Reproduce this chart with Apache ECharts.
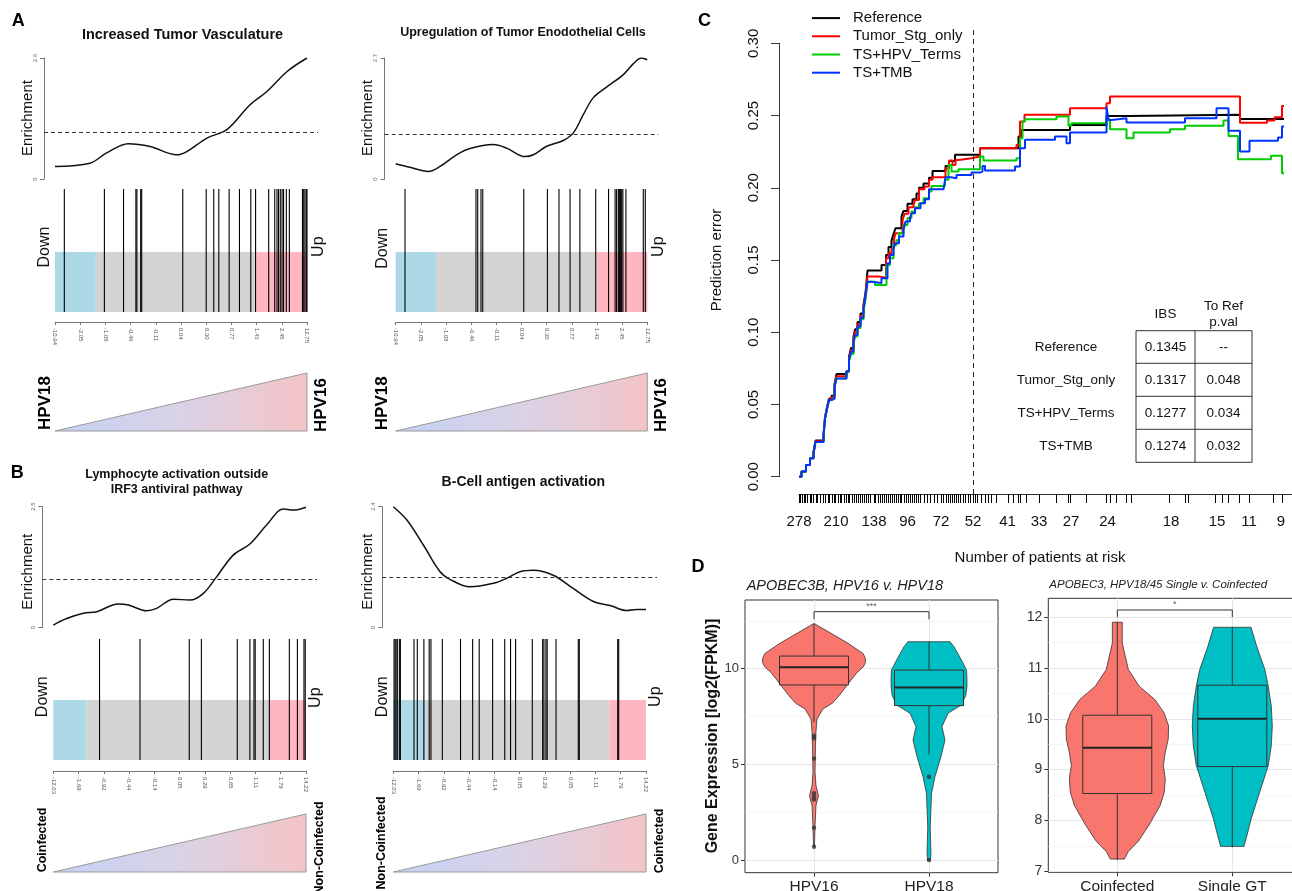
<!DOCTYPE html>
<html>
<head>
<meta charset="utf-8">
<script src="https://cdn.jsdelivr.net/npm/echarts@6.0.0/dist/echarts.min.js"></script>
<style>html,body{margin:0;padding:0;background:#fff;}#chart{width:1292px;height:891px;}</style>
</head>
<body>
<div id="chart"></div>
<script>
// ======================= DATA =======================
// Panels A/B: running enrichment (x = position along ranked list in %, y = enrichment)
const enrA1X = [0, 13.9, 20.5, 29.1, 37.7, 48.3, 52.3, 60.3, 68.2, 77.5, 84.1, 92.1, 100];
const enrA1Y = [0.27, 0.34, 0.56, 0.76, 0.70, 0.52, 0.59, 0.88, 1.06, 1.60, 1.88, 2.31, 2.60];
const enrA2X = [0, 5.7, 13.0, 17.6, 24.2, 29.5, 38.8, 44.1, 51.4, 54.7, 60.0, 66.6, 70.6, 74.6, 78.5, 83.8, 90.5, 94.4, 97.7, 100];
const enrA2Y = [0.34, 0.26, 0.17, 0.28, 0.54, 0.68, 0.77, 0.69, 0.50, 0.54, 0.73, 0.86, 1.03, 1.44, 1.81, 2.05, 2.33, 2.57, 2.70, 2.66];
const enrB1X = [0, 5.3, 11.9, 17.2, 25.7, 29.7, 36.9, 40.9, 47.5, 54.1, 59.4, 64.6, 71.2, 77.8, 84.4, 91.0, 95.0, 100];
const enrB1Y = [0.055, 0.19, 0.30, 0.33, 0.49, 0.47, 0.35, 0.40, 0.59, 0.57, 0.71, 1.05, 1.50, 1.73, 2.12, 2.45, 2.43, 2.49];
const enrB2X = [0, 5.3, 11.9, 18.5, 22.4, 30.3, 39.6, 44.9, 50.1, 55.4, 63.3, 71.2, 79.2, 85.8, 92.3, 96.3, 100];
const enrB2Y = [2.40, 2.14, 1.64, 1.11, 0.96, 0.81, 0.88, 0.98, 1.11, 1.14, 1.04, 0.78, 0.52, 0.44, 0.34, 0.36, 0.36];
const enrMax = [2.6, 2.7, 2.5, 2.4];
const enrBaseline = 1;

// gene-set hits (position in ranked list, %)
const hitsA1 = [3.7, 19.6, 27.2, 32.1, 32.5, 34.0, 34.4, 50.7, 60.0, 63.0, 65.0, 69.1, 73.2, 77.7, 79.6, 84.8, 87.2, 88.1, 88.7, 89.4, 90.1, 90.7, 91.8, 93.0, 98.2, 98.7, 99.2, 99.7, 100];
const hitsA2 = [3.7, 31.9, 32.6, 33.9, 34.6, 50.9, 60.3, 64.9, 69.3, 73.2, 79.5, 84.6, 87.2, 87.8, 88.5, 88.9, 89.3, 89.8, 90.3, 91.5, 98.4, 99.2];
const hitsB1 = [18.3, 34.3, 53.8, 58.6, 72.8, 77.8, 79.4, 79.9, 83.1, 85.5, 93.4, 96.6, 99.2, 99.7];
const hitsB2 = [0.3, 0.7, 1.1, 1.6, 2.4, 2.8, 8.2, 9.5, 12.1, 14.2, 14.9, 19.4, 26.6, 31.4, 34.0, 39.3, 44.1, 46.4, 48.4, 55.0, 59.1, 59.6, 60.4, 60.9, 64.4, 73.2, 73.6, 88.8, 89.2];
// [end of "Down" block, start of "Up" block] in %
const regA1 = [16.2, 79.9];
const regA2 = [16.0, 79.9];
const regB1 = [13.1, 85.5];
const regB2 = [12.9, 85.5];
// rank-statistic tick labels
const rankTicksA = [-10.94, -2.05, -1.08, -0.46, -0.11, 0.04, 0.30, 0.77, 1.43, 2.45, 12.75];
const rankTicksB = [-12.03, -1.69, -0.92, -0.44, -0.14, 0.05, 0.29, 0.65, 1.11, 1.79, 14.22];
const endsA = ['HPV18', 'HPV16'];
const endsB1 = ['Coinfected', 'Non-Coinfected'];
const endsB2 = ['Non-Coinfected', 'Coinfected'];

// Panel C: prediction error curves [time, error]
const refCurve = [[0,0],[0.5,0.0035],[1.4,0.008],[2.2,0.0127],[2.9,0.017],[3.3,0.025],[4.9,0.029],[5.2,0.041],[5.6,0.048],[6.0,0.054],[6.5,0.056],[7.1,0.064],[7.5,0.071],[9.5,0.073],[10.0,0.083],[10.4,0.089],[10.9,0.097],[11.2,0.102],[11.7,0.107],[12.3,0.113],[12.9,0.119],[13.3,0.127],[13.7,0.1427],[16.5,0.1466],[17.4,0.1535],[17.9,0.159],[18.5,0.1634],[18.9,0.168],[19.3,0.172],[20.5,0.180],[20.9,0.184],[21.7,0.189],[22.7,0.192],[23.5,0.196],[24.0,0.200],[24.9,0.203],[26.0,0.207],[26.7,0.2117],[29.3,0.2151],[30.0,0.2186],[31.2,0.2228],[36.2,0.2274],[43.9,0.2355],[44.5,0.240],[54.2,0.2435],[61.5,0.2497],[65.9,0.2505],[88.2,0.2477],[97,0.2477]];
const tsoCurve = [[0,0],[0.5,0.0035],[1.4,0.008],[2.2,0.0127],[2.9,0.0165],[3.3,0.0245],[4.9,0.0285],[5.2,0.0405],[5.6,0.0475],[6.0,0.0535],[6.5,0.055],[7.1,0.063],[7.5,0.0695],[9.5,0.073],[10.0,0.082],[10.4,0.0875],[10.9,0.095],[11.2,0.1],[11.7,0.1055],[12.3,0.1115],[12.9,0.1175],[13.3,0.126],[13.7,0.1385],[15.9,0.1378],[17.4,0.1512],[17.9,0.1547],[18.5,0.158],[19.0,0.1644],[19.3,0.1685],[20.7,0.1773],[21.1,0.182],[21.9,0.1866],[22.9,0.188],[23.2,0.1916],[24.0,0.199],[25.1,0.2008],[26.0,0.2055],[26.7,0.2073],[29.3,0.2136],[30.0,0.2188],[30.7,0.2158],[31.3,0.2193],[31.9,0.2205],[34.5,0.2216],[36.2,0.2274],[43.5,0.2297],[44.2,0.2458],[45.1,0.2505],[54.2,0.2551],[61.5,0.2586],[62.2,0.2632],[88.2,0.2451],[93.6,0.2465],[95.1,0.2488],[96.6,0.2567],[97,0.2567]];
const hpvCurve = [[0,0],[0.5,0.0035],[1.4,0.008],[2.2,0.0127],[2.9,0.016],[3.3,0.024],[4.9,0.028],[5.2,0.040],[5.6,0.047],[6.0,0.053],[6.5,0.054],[7.1,0.062],[7.5,0.068],[9.5,0.0725],[10.0,0.08],[10.4,0.085],[10.9,0.092],[11.2,0.097],[11.7,0.103],[12.3,0.109],[12.9,0.115],[13.3,0.123],[13.7,0.135],[15.2,0.1327],[17.5,0.1466],[18.2,0.1512],[18.9,0.1604],[19.5,0.1639],[20.0,0.1686],[20.9,0.1743],[21.7,0.179],[22.5,0.1835],[23.2,0.1866],[24.0,0.1893],[24.9,0.1928],[26.0,0.1974],[26.5,0.2013],[29.2,0.2055],[29.9,0.2158],[30.5,0.2112],[31.9,0.2128],[36.2,0.2216],[36.9,0.2188],[43.5,0.2205],[44.2,0.2343],[44.7,0.2458],[45.2,0.2475],[51.5,0.2493],[53.9,0.2429],[54.5,0.2447],[61.5,0.2475],[62.2,0.2406],[65.5,0.2343],[66.9,0.2382],[74.2,0.2406],[77.2,0.2429],[84.9,0.2465],[85.9,0.2359],[87.8,0.2198],[94.4,0.2221],[96.6,0.210],[97,0.210]];
const tmbCurve = [[0,0],[0.5,0.0035],[1.4,0.008],[2.2,0.0127],[2.9,0.016],[3.3,0.024],[4.9,0.028],[5.2,0.040],[5.6,0.047],[6.0,0.053],[6.5,0.054],[7.1,0.062],[7.5,0.068],[9.5,0.073],[10.0,0.081],[10.4,0.0865],[10.9,0.0935],[11.2,0.098],[11.7,0.104],[12.3,0.110],[12.9,0.116],[13.3,0.125],[13.7,0.135],[14.5,0.134],[16.5,0.1374],[17.7,0.1478],[18.2,0.1535],[18.9,0.1582],[19.3,0.1616],[20.0,0.1662],[20.9,0.1708],[21.3,0.1766],[22.2,0.179],[22.5,0.1824],[23.2,0.1859],[24.3,0.1893],[25.2,0.1921],[26.0,0.199],[28.9,0.198],[29.3,0.2073],[30.4,0.2066],[31.5,0.2089],[34.5,0.2105],[36.2,0.2112],[36.7,0.2151],[37.2,0.2119],[43.2,0.2147],[44.2,0.2274],[45.2,0.2332],[51.2,0.2355],[53.5,0.2309],[54.2,0.2382],[61.5,0.2562],[61.9,0.247],[62.5,0.2482],[65.5,0.2452],[77.2,0.2482],[83.5,0.2551],[85.9,0.2394],[88.2,0.2251],[90.1,0.2325],[95.8,0.2348],[96.6,0.2424],[97,0.2424]];
const landmarkTime = 34.8;
const rugTimes = [0,0.3,0.6,1.0,1.3,1.7,2.2,2.5,2.9,3.4,3.7,4.2,4.8,5.3,5.8,6.1,6.6,7.0,7.3,7.9,8.2,8.5,9.0,9.5,9.8,10.1,10.6,11.0,11.5,11.8,12.2,12.7,13.0,13.4,13.9,14.2,15.0,15.3,15.8,16.3,16.6,17.0,17.5,17.8,18.2,18.7,19.0,19.4,19.9,20.2,20.5,21.0,21.5,21.8,22.2,22.7,23.0,23.4,23.9,24.2,25.0,25.6,26.3,27.0,27.6,28.4,28.9,29.4,29.8,30.3,30.6,31.0,31.5,31.8,32.2,32.8,33.3,33.8,34.3,34.8,35.2,35.7,36.5,37.2,37.9,38.5,39.5,41.9,42.9,43.9,44.3,45.5,48.1,51.4,53.9,54.3,57.4,61.4,62.2,63.5,65.5,66.5,74.1,77.2,77.8,83.3,84.7,85.9,88.0,90.0,94.9,96.7];
const atRiskTimes = [0, 7.4, 15, 21.7, 28.4, 34.8, 41.7, 48, 54.4, 61.7, 74.4, 83.6, 90, 96.4];
const atRiskCounts = [278, 210, 138, 96, 72, 52, 41, 33, 27, 24, 18, 15, 11, 9];
const cNames = ['Reference', 'Tumor_Stg_only', 'TS+HPV_Terms', 'TS+TMB'];
const tableIBS = [0.1345, 0.1317, 0.1277, 0.1274];
const tablePval = [null, 0.048, 0.034, 0.032];

// Panel D: violin profiles (value, half-width in group units), box stats [lo, q1, median, q3, hi], outliers
const groupsD1 = ['HPV16', 'HPV18'];
const vio16Y = [12.35, 11.94, 11.33, 10.8, 10.6, 10.37, 10.1, 9.8, 9.1, 8.6, 8.2, 7.9, 7.37, 6.7, 6.0, 4.6, 3.9, 3.36, 2.85, 1.8, 0.7];
const vio16W = [0.005, 0.122, 0.296, 0.426, 0.443, 0.45, 0.43, 0.374, 0.283, 0.22, 0.16, 0.078, 0.026, 0.017, 0.013, 0.009, 0.017, 0.039, 0.017, 0.009, 0.004];
const vio18Y = [11.41, 11.15, 10.5, 9.93, 9.5, 9.06, 8.6, 8.1, 7.67, 6.97, 6.27, 5.4, 4.36, 3.48, 1.74, 0.35, 0.0];
const vio18W = [0.183, 0.217, 0.278, 0.326, 0.33, 0.33, 0.32, 0.28, 0.165, 0.113, 0.139, 0.104, 0.052, 0.022, 0.011, 0.017, 0.013];
const boxD1 = [[7.2, 9.15, 10.07, 10.66, 12.35], [5.52, 8.07, 9.02, 9.93, 11.41]];
const outD1 = [[1, 6.50], [1, 6.36], [1, 5.31], [1, 3.49], [1, 3.31], [1, 3.17], [1, 1.69], [1, 0.70], [2, 4.35], [2, 0.0]];
const sigD1 = [12.58, 12.98, '***'];
const groupsD2 = ['Coinfected', 'Single GT'];
const vioCoY = [11.9, 11.49, 10.97, 10.64, 10.38, 10.12, 9.86, 9.6, 9.34, 9.08, 8.82, 8.56, 8.3, 7.91, 7.59, 7.39, 7.24];
const vioCoW = [0.043, 0.043, 0.096, 0.191, 0.326, 0.406, 0.446, 0.443, 0.417, 0.40, 0.417, 0.409, 0.374, 0.276, 0.183, 0.096, 0.061];
const vioSgY = [11.8, 11.42, 10.97, 10.64, 10.25, 9.86, 9.47, 9.08, 8.56, 8.04, 7.71, 7.49];
const vioSgW = [0.163, 0.213, 0.283, 0.313, 0.339, 0.348, 0.339, 0.313, 0.239, 0.165, 0.128, 0.102];
const boxD2 = [[7.22, 8.53, 9.43, 10.07, 11.9], [7.47, 9.06, 10.0, 10.66, 11.8]];
const sigD2 = [12.0, 12.14, '*'];
const dPos = [1, 2];
const d1Ticks = [0, 5, 10], d1Minor = [2.5, 7.5, 12.5];
const d2Ticks = [7, 8, 9, 10, 11, 12], d2Minor = [7.5, 8.5, 9.5, 10.5, 11.5];

// ======================= BUILD =======================
const FONT = '"Liberation Sans", Arial, sans-serif';
const grids = [], xAxes = [], yAxes = [], series = [], graphics = [];
function fixAxis(a) {
  a.axisLine = Object.assign({}, a.axisLine || {}, { onZero: false });
  return a;
}
function addGrid(rect, xa, ya) {
  const i = grids.length;
  grids.push(Object.assign({ show: false, containLabel: false, outerBoundsMode: 'none' }, rect));
  xAxes.push(fixAxis(Object.assign({ gridIndex: i, type: 'value', splitLine: { show: false } }, xa)));
  yAxes.push(fixAxis(Object.assign({ gridIndex: i, type: 'value', splitLine: { show: false } }, ya)));
  return i;
}
function text(x, y, str, size, o) {
  o = o || {};
  graphics.push({ type: 'text', x: x, y: y, rotation: o.rot || 0, silent: true, z: 50,
    style: { text: str, font: (o.italic ? 'italic ' : '') + (o.bold ? 'bold ' : '') + size + 'px ' + FONT,
      fill: o.color || '#000', align: o.align || 'center', verticalAlign: o.va || 'middle' } });
}
const UP = Math.PI / 2;

const rowA = { eTop: 58, eBot: 179, bTop: 189, rTop: 252, bBot: 312, aY: 322, tTop: 373, tBot: 431 };
const rowB = { eTop: 506.7, eBot: 627.7, bTop: 639, rTop: 700, bBot: 760, aY: 771, tTop: 814, tBot: 872 };
const gsea = [
  { row: rowA, x0: 55, x1: 307, ex: enrA1X, ey: enrA1Y, ymax: enrMax[0], hits: hitsA1, reg: regA1, ticks: rankTicksA, ends: endsA,
    titles: [['Increased Tumor Vasculature', 182.5, 35]], tSize: 14.5, enr: [28, 118], down: [45, 247], up: [318.3, 246.7], eL: [45, 403], eR: [321.7, 405], eSize: 17 },
  { row: rowA, x0: 395.7, x1: 647.3, ex: enrA2X, ey: enrA2Y, ymax: enrMax[1], hits: hitsA2, reg: regA2, ticks: rankTicksA, ends: endsA,
    titles: [['Upregulation of Tumor Enodothelial Cells', 523, 33]], tSize: 12.5, enr: [368.3, 118], down: [382.7, 248.3], up: [658.3, 246.7], eL: [382.7, 403.3], eR: [661.7, 405], eSize: 17 },
  { row: rowB, x0: 53.3, x1: 306, ex: enrB1X, ey: enrB1Y, ymax: enrMax[2], hits: hitsB1, reg: regB1, ticks: rankTicksB, ends: endsB1,
    titles: [['Lymphocyte activation outside', 176.7, 475], ['IRF3 antiviral pathway', 176.7, 490]], tSize: 12.5, enr: [28.3, 571.7], down: [42.7, 696.7], up: [316, 697.7], eL: [42.7, 840], eR: [319.3, 848], eSize: 12.5 },
  { row: rowB, x0: 393.3, x1: 646, ex: enrB2X, ey: enrB2Y, ymax: enrMax[3], hits: hitsB2, reg: regB2, ticks: rankTicksB, ends: endsB2,
    titles: [['B-Cell antigen activation', 523.3, 481.7]], tSize: 14, enr: [368.3, 571.7], down: [382.7, 696.7], up: [656, 696.7], eL: [381.7, 843], eR: [659.3, 841], eSize: 12.5 }
];

gsea.forEach(p => {
  const L = p.row, w = p.x1 - p.x0, pad = 11, padU = pad / w * 100;
  // enrichment curve
  let g = addGrid({ left: p.x0 - pad, top: L.eTop, width: w + 2 * pad, height: L.eBot - L.eTop },
    { min: -padU, max: 100 + padU, show: false },
    { min: 0, max: p.ymax, interval: p.ymax,
      axisLine: { show: true, lineStyle: { color: '#777', width: 1 } },
      axisTick: { show: true, length: 4, lineStyle: { color: '#777' } },
      axisLabel: { rotate: 90, fontSize: 6, color: '#666', margin: 6, formatter: v => (v === 0 ? '0' : String(v)) } });
  series.push({ type: 'line', xAxisIndex: g, yAxisIndex: g, silent: true, smooth: 0.35, symbol: 'none', showSymbol: false,
    data: p.ex.map((x, i) => [x, p.ey[i]]), lineStyle: { color: '#111', width: 1.5 },
    markLine: { silent: true, symbol: 'none', label: { show: false }, animation: false,
      lineStyle: { color: '#333', type: [4, 3], width: 1 }, data: [{ yAxis: enrBaseline }] } });
  // barcode
  g = addGrid({ left: p.x0, top: L.bTop, width: w, height: L.bBot - L.bTop },
    { min: 0, max: 100, interval: 10, position: 'bottom', offset: L.aY - L.bBot,
      axisLine: { show: true, lineStyle: { color: '#777', width: 1 } },
      axisTick: { show: true, length: 3, lineStyle: { color: '#777' } },
      axisLabel: { rotate: -90, fontSize: 6, color: '#555', margin: 6, formatter: v => p.ticks[Math.round(v / 10)].toFixed(2) } },
    { min: 0, max: 1, show: false });
  const regionCols = ['#ADD8E6', '#D3D3D3', '#FFB6C1'];
  const rTop = L.rTop;
  series.push({ type: 'custom', xAxisIndex: g, yAxisIndex: g, silent: true, z: 1,
    data: [[0, p.reg[0], 0], [p.reg[0], p.reg[1], 1], [p.reg[1], 100, 2]],
    renderItem: (params, api) => {
      const a = api.coord([api.value(0), 0]), b = api.coord([api.value(1), 0]);
      return { type: 'rect', shape: { x: a[0], y: rTop, width: b[0] - a[0], height: a[1] - rTop }, style: { fill: regionCols[api.value(2)] } };
    } });
  series.push({ type: 'custom', xAxisIndex: g, yAxisIndex: g, silent: true, z: 2,
    data: p.hits.map(h => [h, 1]),
    renderItem: (params, api) => {
      const a = api.coord([api.value(0), 0]), b = api.coord([api.value(0), api.value(1)]);
      return { type: 'line', shape: { x1: a[0], y1: a[1], x2: b[0], y2: b[1] }, style: { stroke: '#000', lineWidth: 1.1 } };
    } });
  // gradient triangle
  g = addGrid({ left: p.x0, top: L.tTop, width: w, height: L.tBot - L.tTop },
    { min: 0, max: 100, show: false }, { min: 0, max: 1, show: false });
  series.push({ type: 'custom', xAxisIndex: g, yAxisIndex: g, silent: true,
    data: [[0, 100]],
    renderItem: (params, api) => {
      const x0 = api.value(0), x1 = api.value(1);
      return { type: 'polygon', shape: { points: [api.coord([x0, 0]), api.coord([x1, 1]), api.coord([x1, 0])] },
        style: { fill: new echarts.graphic.LinearGradient(0, 0, 1, 0, [
          { offset: 0, color: '#C4D2F4' }, { offset: 0.5, color: '#DAD2E6' }, { offset: 1, color: '#F4C4C6' }]),
          stroke: '#9a9a9a', lineWidth: 1 } };
    } });
  // texts
  p.titles.forEach(t => text(t[1], t[2], t[0], p.tSize, { bold: true, color: '#111' }));
  text(p.enr[0], p.enr[1], 'Enrichment', 15, { rot: UP, color: '#111' });
  text(p.down[0], p.down[1], 'Down', 16, { rot: UP, color: '#111' });
  text(p.up[0], p.up[1], 'Up', 16, { rot: UP, color: '#111' });
  text(p.eL[0], p.eL[1], p.ends[0], p.eSize, { rot: UP, bold: true });
  text(p.eR[0], p.eR[1], p.ends[1], p.eSize, { rot: UP, bold: true });
});

// ---------- Panel C ----------
const cMain = addGrid({ left: 779, top: 26, width: 540, height: 468 },
  { min: -4, max: 104, show: false }, { min: -0.012, max: 0.312, show: false });
addGrid({ left: 779, top: 43.3, width: 540, height: 433.4 },
  { min: -4, max: 104, show: false },
  { min: 0, max: 0.3, interval: 0.05,
    axisLine: { show: true, lineStyle: { color: '#333', width: 1 } },
    axisTick: { show: true, length: 8, lineStyle: { color: '#333' } },
    axisLabel: { rotate: 90, fontSize: 15, color: '#111', margin: 18, formatter: v => v.toFixed(2) } });
addGrid({ left: 799, top: 26, width: 520, height: 468 },
  { min: 0, max: 104, position: 'bottom',
    axisLine: { show: true, lineStyle: { color: '#333', width: 1 } },
    axisTick: { show: true, customValues: rugTimes, length: 9, lineStyle: { color: '#000', width: 1 } },
    axisLabel: { customValues: atRiskTimes, fontSize: 15, color: '#111', margin: 20,
      formatter: v => { const i = atRiskTimes.indexOf(v); return i < 0 ? '' : String(atRiskCounts[i]); } } },
  { min: 0, max: 1, show: false });
const cCols = ['#000000', '#FF0000', '#00CD00', '#0033FF'];
[refCurve, tsoCurve, hpvCurve, tmbCurve].forEach((d, k) => {
  const s = { type: 'line', name: cNames[k], xAxisIndex: cMain, yAxisIndex: cMain, data: d, step: 'end', symbol: 'none', showSymbol: false,
    silent: true, z: 3 + k, lineStyle: { color: cCols[k], width: 2 }, itemStyle: { color: cCols[k] } };
  if (k === 0) s.markLine = { silent: true, symbol: 'none', label: { show: false }, animation: false,
    lineStyle: { color: '#222', type: [5, 4], width: 1 }, data: [{ xAxis: landmarkTime }] };
  series.push(s);
});
text(717, 260, 'Prediction error', 15, { rot: UP, color: '#111' });
text(1040, 557.7, 'Number of patients at risk', 15, { color: '#111' });
// table
const tb = { x0: 1136, xm: 1195, x1: 1252, rows: [330.7, 363.3, 396.3, 429.3, 462.3] };
graphics.push({ type: 'rect', silent: true, shape: { x: tb.x0, y: tb.rows[0], width: tb.x1 - tb.x0, height: tb.rows[4] - tb.rows[0] }, style: { fill: 'none', stroke: '#333', lineWidth: 1 } });
[1, 2, 3].forEach(r => graphics.push({ type: 'line', silent: true, shape: { x1: tb.x0, y1: tb.rows[r], x2: tb.x1, y2: tb.rows[r] }, style: { stroke: '#333', lineWidth: 1 } }));
graphics.push({ type: 'line', silent: true, shape: { x1: tb.xm, y1: tb.rows[0], x2: tb.xm, y2: tb.rows[4] }, style: { stroke: '#333', lineWidth: 1 } });
text((tb.x0 + tb.xm) / 2, 314.3, 'IBS', 13.5, { color: '#111' });
text((tb.xm + tb.x1) / 2, 306, 'To Ref', 13.5, { color: '#111' });
text((tb.xm + tb.x1) / 2, 322.7, 'p.val', 13.5, { color: '#111' });
cNames.forEach((n, r) => {
  const yc = (tb.rows[r] + tb.rows[r + 1]) / 2;
  text(1066, yc, n, 13.5, { color: '#111' });
  text((tb.x0 + tb.xm) / 2, yc, tableIBS[r].toFixed(4), 13.5, { color: '#111' });
  text((tb.xm + tb.x1) / 2, yc, tablePval[r] === null ? '--' : tablePval[r].toFixed(3), 13.5, { color: '#111' });
});

// ---------- Panel D ----------
function dPanel(rect, ymin, ymax, ticks, minor, groups, tickSize) {
  addGrid(Object.assign({}, rect),
    { min: 0.4, max: 2.6, show: false },
    { min: ymin, max: ymax, axisLine: { show: false }, axisTick: { show: false, customValues: minor }, axisLabel: { show: false },
      splitLine: { show: true, lineStyle: { color: '#F0F0F0', width: 0.7 } } });
  return addGrid(Object.assign({ show: true, borderColor: '#333', borderWidth: 1, backgroundColor: 'transparent' }, rect),
    { min: 0.4, max: 2.6, axisLine: { show: false },
      axisTick: { show: true, customValues: dPos, length: 4, lineStyle: { color: '#333' } },
      axisLabel: { customValues: dPos, fontSize: 15.5, color: '#222', margin: 6, formatter: v => groups[Math.round(v) - 1] },
      splitLine: { show: true, lineStyle: { color: '#E6E6E6', width: 1.1 } } },
    { min: ymin, max: ymax, axisLine: { show: false },
      axisTick: { show: true, customValues: ticks, length: 4, lineStyle: { color: '#333' } },
      axisLabel: { customValues: ticks, fontSize: tickSize, color: '#333', margin: 6 },
      splitLine: { show: true, lineStyle: { color: '#E6E6E6', width: 1.1 } } });
}
const dFills = ['#F8766D', '#00BFC4'];
function violins(g, profiles) {
  series.push({ type: 'custom', xAxisIndex: g, yAxisIndex: g, silent: true, z: 2,
    data: profiles.map((pr, k) => [dPos[k], k]),
    renderItem: (params, api) => {
      const xc = api.value(0), pr = profiles[api.value(1)];
      const left = pr[0].map((y, j) => api.coord([xc - pr[1][j], y]));
      const right = pr[0].map((y, j) => api.coord([xc + pr[1][j], y])).reverse();
      return { type: 'polygon', shape: { points: left.concat(right) }, style: { fill: dFills[api.value(1)], stroke: '#333', lineWidth: 0.8 } };
    } });
}
function boxes(g, stats) {
  const halfW = 0.3;
  series.push({ type: 'custom', xAxisIndex: g, yAxisIndex: g, silent: true, z: 3,
    data: stats.map((b, k) => [dPos[k]].concat(b)),
    renderItem: (params, api) => {
      const k = params.dataIndex, xc = api.value(0);
      const lo = api.value(1), q1 = api.value(2), md = api.value(3), q3 = api.value(4), hi = api.value(5);
      const pHi = api.coord([xc, hi]), pQ3 = api.coord([xc, q3]), pQ1 = api.coord([xc, q1]), pLo = api.coord([xc, lo]);
      const tl = api.coord([xc - halfW, q3]), br = api.coord([xc + halfW, q1]);
      const ml = api.coord([xc - halfW, md]), mr = api.coord([xc + halfW, md]);
      const st = { stroke: '#333', lineWidth: 1 };
      return { type: 'group', children: [
        { type: 'line', shape: { x1: pHi[0], y1: pHi[1], x2: pQ3[0], y2: pQ3[1] }, style: st },
        { type: 'line', shape: { x1: pQ1[0], y1: pQ1[1], x2: pLo[0], y2: pLo[1] }, style: st },
        { type: 'rect', shape: { x: tl[0], y: tl[1], width: br[0] - tl[0], height: br[1] - tl[1] }, style: { fill: dFills[k], stroke: '#333', lineWidth: 1 } },
        { type: 'line', shape: { x1: ml[0], y1: ml[1], x2: mr[0], y2: mr[1] }, style: { stroke: '#222', lineWidth: 2 } }
      ] };
    } });
}
function bracket(g, sig) {
  series.push({ type: 'line', xAxisIndex: g, yAxisIndex: g, silent: true, symbol: 'none', z: 4,
    data: [[dPos[0], sig[0]], [dPos[0], sig[1]], [dPos[1], sig[1]], [dPos[1], sig[0]]], lineStyle: { color: '#333', width: 1 } });
  series.push({ type: 'scatter', xAxisIndex: g, yAxisIndex: g, silent: true, symbolSize: 0, z: 4,
    data: [[(dPos[0] + dPos[1]) / 2, sig[1]]],
    label: { show: true, position: 'top', distance: 1, formatter: sig[2], fontSize: 9, color: '#333' } });
}
const d1 = dPanel({ left: 745, top: 600, width: 253, height: 272.7 }, -0.66, 13.59, d1Ticks, d1Minor, groupsD1, 13);
violins(d1, [[vio16Y, vio16W], [vio18Y, vio18W]]);
boxes(d1, boxD1);
series.push({ type: 'scatter', xAxisIndex: d1, yAxisIndex: d1, silent: true, symbolSize: 4.5, z: 5, data: outD1, itemStyle: { color: '#333' } });
bracket(d1, sigD1);
const d2 = dPanel({ left: 1048.3, top: 598.3, width: 253, height: 274 }, 6.98, 12.37, d2Ticks, d2Minor, groupsD2, 14);
violins(d2, [[vioCoY, vioCoW], [vioSgY, vioSgW]]);
boxes(d2, boxD2);
bracket(d2, sigD2);
text(746.7, 586, 'APOBEC3B, HPV16 v. HPV18', 14.5, { italic: true, align: 'left', color: '#222' });
text(1049.3, 585, 'APOBEC3, HPV18/45 Single v. Coinfected', 11.5, { italic: true, align: 'left', color: '#222' });
text(713, 736, 'Gene Expression [log2(FPKM)]', 16, { rot: UP, bold: true, color: '#111' });

// panel letters
text(18.3, 21, 'A', 18, { bold: true });
text(17.3, 473.3, 'B', 18, { bold: true });
text(704.6, 20.7, 'C', 18, { bold: true });
text(698, 567, 'D', 18, { bold: true });

const chart = echarts.init(document.getElementById('chart'), null, { renderer: 'canvas' });
chart.setOption({
  animation: false,
  backgroundColor: '#fff',
  textStyle: { fontFamily: FONT },
  tooltip: { show: false },
  legend: { data: cNames, orient: 'vertical', left: 812, top: 9, padding: 0, itemGap: 0, itemWidth: 28, itemHeight: 2,
    icon: 'rect', selectedMode: false,
    textStyle: { fontSize: 15, color: '#111', lineHeight: 18.2, padding: [0, 0, 0, 8], fontFamily: FONT } },
  grid: grids, xAxis: xAxes, yAxis: yAxes, series: series, graphic: { elements: graphics }
});
</script>
</body>
</html>
